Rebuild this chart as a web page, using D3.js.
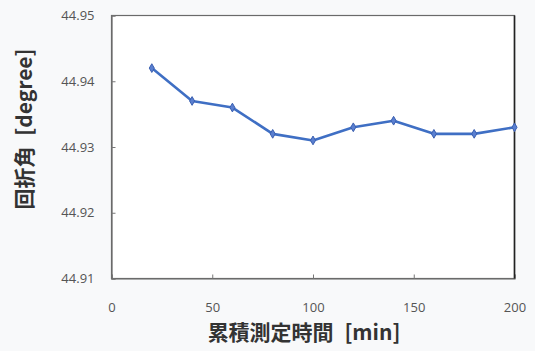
<!DOCTYPE html>
<html>
<head>
<meta charset="utf-8">
<script src="https://cdn.jsdelivr.net/npm/d3@7/dist/d3.min.js"></script>
<style>
  html, body { margin: 0; padding: 0; background: #f8f9fa; }
  svg { display: block; }
</style>
</head>
<body>
<svg id="chart" width="535" height="351"></svg>
<script>
// Cumulative measurement time (min) and diffraction angle (degree)
const times = [20, 40, 60, 80, 100, 120, 140, 160, 180, 200];
const angles = [44.942, 44.937, 44.936, 44.932, 44.931, 44.933, 44.934, 44.932, 44.932, 44.933];
const xTicks = [0, 50, 100, 150, 200];
const yTicks = [44.91, 44.92, 44.93, 44.94, 44.95];
const xTitle = ["累積測定時間", " [min]"];
const yTitle = ["回折角", " [degree]"];

const svg = d3.select("#chart");
const margin = { left: 111.5, right: 20.5, top: 15.5, bottom: 72.5 };
const W = 535, H = 351;

const x = d3.scaleLinear().domain([0, 200]).range([margin.left, W - margin.right]);
const y = d3.scaleLinear().domain([44.91, 44.95]).range([H - margin.bottom, margin.top]);

// plot area
svg.append("rect")
  .attr("x", x(0)).attr("y", y(44.95))
  .attr("width", x(200) - x(0)).attr("height", y(44.91) - y(44.95))
  .attr("fill", "#ffffff")
  .attr("stroke", "#6a6a6a").attr("stroke-width", 1.2);

// axes with inward ticks
const xAxis = d3.axisBottom(x).tickValues(xTicks).tickSize(-4).tickPadding(24).tickFormat(d3.format("d"));
const yAxis = d3.axisLeft(y).tickValues(yTicks).tickSize(-4).tickPadding(17).tickFormat(d3.format(".2f"));

const gx = svg.append("g").attr("transform", `translate(0,${y(44.91)})`).call(xAxis);
const gy = svg.append("g").attr("transform", `translate(${x(0)},0)`).call(yAxis);

[gx, gy].forEach(g => {
  g.select(".domain").attr("stroke", "#6a6a6a").attr("stroke-width", 1.2);
  g.selectAll(".tick line").attr("stroke", "#777");
  g.selectAll(".tick text")
    .attr("fill", "#555")
    .style("font-family", "'Open Sans', 'Liberation Sans', sans-serif")
    .style("font-size", "13px");
});
// right edge drawn darker
svg.append("line")
  .attr("x1", x(200)).attr("x2", x(200))
  .attr("y1", y(44.95)).attr("y2", y(44.91))
  .attr("stroke", "#222").attr("stroke-width", 1.6);

// data line
const line = d3.line().x((d, i) => x(times[i])).y(d => y(d));
svg.append("path")
  .datum(angles)
  .attr("d", line)
  .attr("fill", "none")
  .attr("stroke", "#3f6fc4")
  .attr("stroke-width", 2.6)
  .attr("stroke-linejoin", "round");

// diamond markers
svg.append("g").selectAll("path")
  .data(angles)
  .join("path")
  .attr("transform", (d, i) => `translate(${x(times[i])},${y(d)})`)
  .attr("d", d3.symbol(d3.symbolDiamond, 22)())
  .attr("fill", "#5a7fd0")
  .attr("stroke", "#3a5fb0")
  .attr("stroke-width", 1);

// axis titles: Japanese part and bracketed unit, with a wider gap between them
function title(sel, parts) {
  sel.attr("text-anchor", "middle")
    .attr("fill", "#333")
    .style("font-family", "'Noto Sans CJK JP', sans-serif")
    .style("font-weight", "bold")
    .style("font-size", "21px");
  sel.append("tspan").text(parts[0]);
  sel.append("tspan").attr("dx", 6).text(parts[1]);
}

svg.append("text")
  .attr("x", 304).attr("y", 340)
  .call(title, xTitle);

svg.append("text")
  .attr("transform", "translate(32,129) rotate(-90)")
  .call(title, yTitle);
</script>
</body>
</html>
